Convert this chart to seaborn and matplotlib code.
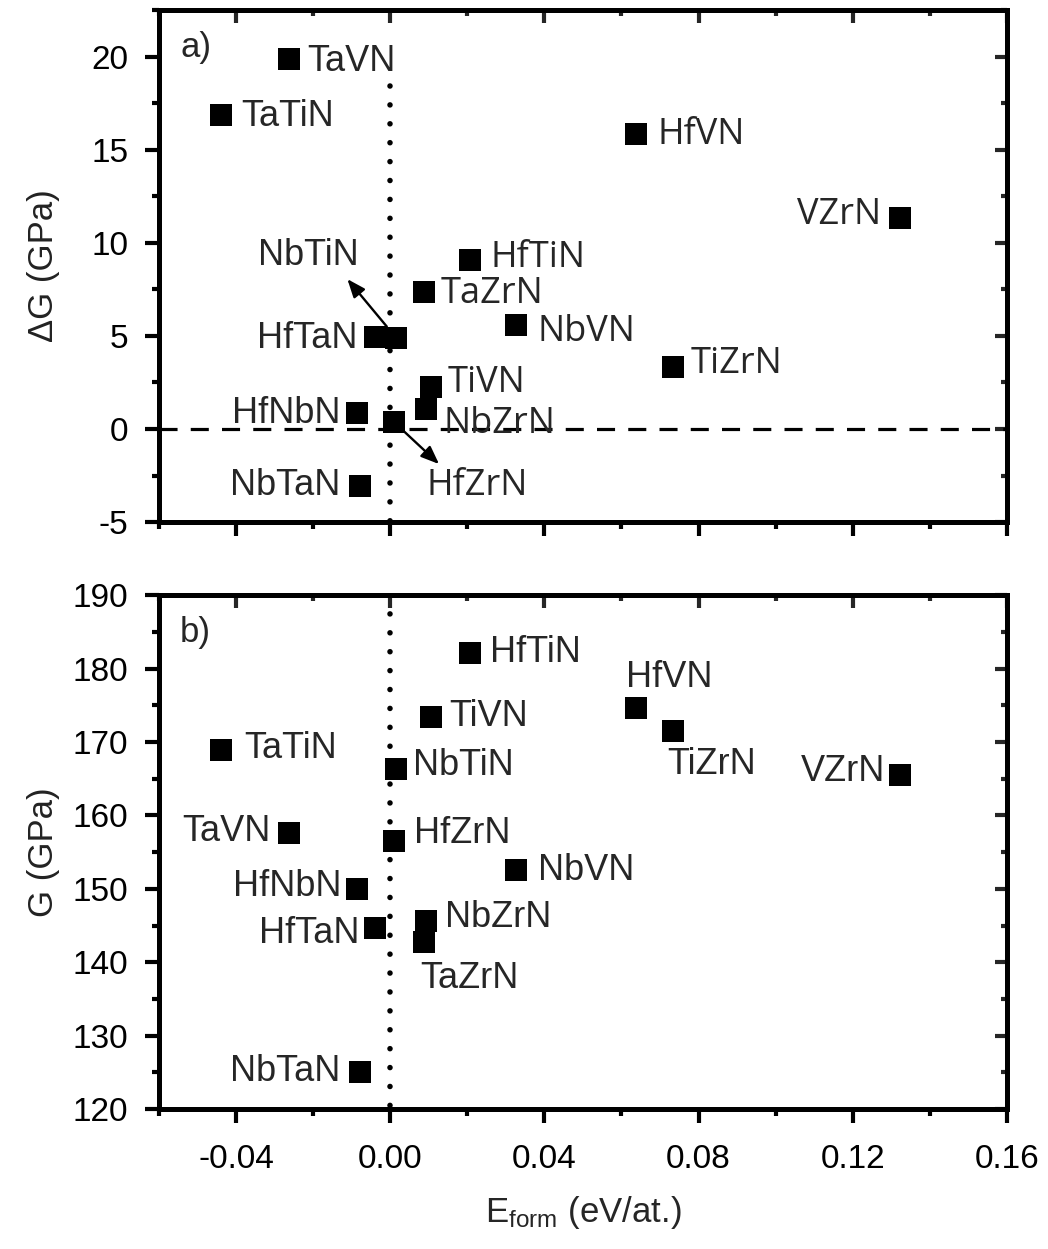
import matplotlib
matplotlib.use("Agg")
import matplotlib.pyplot as plt
from matplotlib.ticker import MultipleLocator, FuncFormatter, NullFormatter
import seaborn as sns
import pandas as pd

# ---------------- data ----------------
compounds = ["TaVN", "TaTiN", "HfVN", "VZrN", "HfTiN", "TaZrN", "NbVN", "NbTiN",
             "HfTaN", "TiZrN", "TiVN", "NbZrN", "HfNbN", "HfZrN", "NbTaN"]
e_form = [-0.0262, -0.0439, 0.0639, 0.1322, 0.0208, 0.0088, 0.0327, 0.0016,
          -0.0039, 0.0735, 0.0106, 0.0093, -0.0086, 0.0010, -0.0078]
delta_g = [19.87, 16.85, 15.84, 11.33, 9.07, 7.35, 5.58, 4.88,
           4.93, 3.32, 2.24, 1.07, 0.85, 0.37, -3.06]
shear_g = [157.6, 168.9, 174.6, 165.5, 182.1, 142.7, 152.5, 166.3,
           144.6, 171.5, 173.4, 145.6, 150.0, 156.5, 125.0]

df = pd.DataFrame({"compound": compounds, "E_form": e_form, "dG": delta_g, "G": shear_g})

# ---------------- style ----------------
sns.set_theme(style="ticks")
plt.rcParams["font.family"] = ["Liberation Sans", "DejaVu Sans"]
plt.rcParams["mathtext.fontset"] = "custom"
plt.rcParams["mathtext.rm"] = "Liberation Sans"
plt.rcParams["mathtext.default"] = "regular"
plt.rcParams["axes.unicode_minus"] = False
plt.rcParams["lines.scale_dashes"] = False

SEG = ["Open Sans", "Liberation Sans"]
ARI = ["Liberation Sans", "DejaVu Sans"]
PX = 0.72  # pixel -> point at dpi 100
LFS = 26   # label font size

# label placement (ha, dx px, dy px downward, font) relative to marker
top_labels = {
    "TaVN": ("left", 18, 12, ARI), "TaTiN": ("left", 20, 11, ARI),
    "HfVN": ("left", 21, 10, SEG), "VZrN": ("right", -19, 6, SEG),
    "HfTiN": ("left", 20, 7, SEG), "TaZrN": ("left", 17, 11, SEG),
    "NbVN": ("left", 21, 16, SEG), "NbTiN": ("right", -38, -73, ARI),
    "HfTaN": ("right", -18, 11, ARI), "TiZrN": ("left", 17, 6, SEG),
    "TiVN": ("left", 17, 5, SEG), "NbZrN": ("left", 17, 24, SEG),
    "HfNbN": ("right", -17, 10, ARI), "HfZrN": ("left", 32, 73, SEG),
    "NbTaN": ("right", -20, 9, ARI),
}
bot_labels = {
    "HfTiN": ("left", 20, 9), "HfVN": ("left", -10, -21), "TiZrN": ("left", -6, 43),
    "TiVN": ("left", 18, 9), "TaTiN": ("left", 23, 8), "NbTiN": ("left", 17, 6),
    "VZrN": ("right", -14, 6), "TaVN": ("right", -19, 8), "HfZrN": ("left", 20, 2),
    "NbVN": ("left", 22, 10), "HfNbN": ("right", -16, 7), "NbZrN": ("left", 19, 6),
    "TaZrN": ("left", -4, 46), "HfTaN": ("right", -16, 15), "NbTaN": ("right", -20, 9),
}
# arrows: (head offset px dx, dy downward, shrink at marker px)
top_arrows = {"NbTiN": (-49, -59, 15), "HfZrN": (45, 42, 14)}

fig = plt.figure(figsize=(10.48, 12.49), dpi=100)
ax1 = fig.add_axes([0.1517, 0.582, 0.809, 0.410])
ax2 = fig.add_axes([0.1517, 0.112, 0.809, 0.4115])

SPW = 3.6
TKW = 3.0


def fmt_x(v, p):
    if abs(v) < 1e-9:
        return "0.00"
    return f"{v:.2f}"


def style(ax, ymaj, ymin, xlabels):
    ax.set_xlim(-0.06, 0.16)
    ax.xaxis.set_major_locator(MultipleLocator(0.04))
    ax.xaxis.set_minor_locator(MultipleLocator(0.02))
    ax.yaxis.set_major_locator(MultipleLocator(ymaj))
    ax.yaxis.set_minor_locator(MultipleLocator(ymin))
    ax.xaxis.set_major_formatter(FuncFormatter(fmt_x) if xlabels else NullFormatter())
    ax.tick_params(which="both", direction="out", top=False, right=False,
                   width=TKW, labelsize=24, colors="black")
    ax.tick_params(axis="y", which="both", pad=12)
    ax.tick_params(axis="x", which="both", pad=15)
    ax.tick_params(which="major", length=10)
    ax.tick_params(which="minor", length=5)
    for s in ax.spines.values():
        s.set_linewidth(SPW)
        s.set_color("black")
    secx = ax.secondary_xaxis("top")
    secx.xaxis.set_major_locator(MultipleLocator(0.04))
    secx.xaxis.set_minor_locator(MultipleLocator(0.02))
    secx.xaxis.set_major_formatter(NullFormatter())
    secx.tick_params(which="both", direction="in", width=TKW)
    secx.tick_params(which="major", length=9)
    secx.tick_params(which="minor", length=4.5)
    secx.spines["top"].set_linewidth(SPW)
    secy = ax.secondary_yaxis("right")
    secy.yaxis.set_major_locator(MultipleLocator(ymaj))
    secy.yaxis.set_minor_locator(MultipleLocator(ymin))
    secy.yaxis.set_major_formatter(NullFormatter())
    secy.tick_params(which="both", direction="in", width=TKW)
    secy.tick_params(which="major", length=9)
    secy.tick_params(which="minor", length=4.5)
    secy.spines["right"].set_linewidth(SPW)


DOT_LS = (0, (0.01, 13.6))

# ---------------- panel a ----------------
sns.scatterplot(data=df, x="E_form", y="dG", marker="s", s=240, color="black",
                linewidth=0, ax=ax1, zorder=3, legend=False)
ax1.set_ylim(-5, 22.5)
style(ax1, 5, 2.5, xlabels=False)
ax1.axhline(0, color="black", lw=2.3, ls=(0, (13, 9.5)), zorder=2)
# dotted reference line drawn from its top end downward (so the first dot sits at the top)
ax1.axvline(0, ymin=(18.4 + 5) / 27.5, ymax=0, color="black", lw=4.0,
            ls=DOT_LS, dash_capstyle="round", zorder=2)
ax1.set_xlabel("")
ax1.set_ylabel("ΔG (GPa)", fontsize=25, color="#222222")
ax1.yaxis.set_label_coords(-0.117, 0.5)
ax1.text(0.025, 0.908, "a)", transform=ax1.transAxes, fontsize=25, va="baseline", ha="left")

for _, r in df.iterrows():
    ha, dx, dy, fam = top_labels[r["compound"]]
    ax1.annotate(r["compound"], xy=(r["E_form"], r["dG"]), xytext=(dx * PX, -dy * PX),
                 textcoords="offset points", ha=ha, va="baseline", fontsize=LFS,
                 family=fam, zorder=4)
    if r["compound"] in top_arrows:
        hx, hy, sh = top_arrows[r["compound"]]
        ax1.annotate("", xy=(r["E_form"], r["dG"]), xytext=(hx * PX, -hy * PX),
                     textcoords="offset points",
                     arrowprops=dict(arrowstyle="<|-,head_length=0.55,head_width=0.22",
                                     lw=1.7, color="black", shrinkA=0, shrinkB=sh * PX,
                                     mutation_scale=20), zorder=4)

# ---------------- panel b ----------------
sns.scatterplot(data=df, x="E_form", y="G", marker="s", s=240, color="black",
                linewidth=0, ax=ax2, zorder=3, legend=False)
ax2.set_ylim(120, 190)
style(ax2, 10, 5, xlabels=True)
ax2.axvline(0, ymin=1, ymax=0, color="black", lw=4.0, ls=DOT_LS,
            dash_capstyle="round", zorder=2)
ax2.set_xlabel("E$_{\\mathregular{form}}$ (eV/at.)", fontsize=25, labelpad=14)
ax2.set_ylabel("G (GPa)", fontsize=25, color="#222222")
ax2.yaxis.set_label_coords(-0.117, 0.5)
ax2.text(0.025, 0.9086, "b)", transform=ax2.transAxes, fontsize=25, va="baseline", ha="left")

for _, r in df.iterrows():
    ha, dx, dy = bot_labels[r["compound"]]
    ax2.annotate(r["compound"], xy=(r["E_form"], r["G"]), xytext=(dx * PX, -dy * PX),
                 textcoords="offset points", ha=ha, va="baseline", fontsize=LFS,
                 family=ARI, zorder=4)

fig.savefig("out.png", dpi=100)
